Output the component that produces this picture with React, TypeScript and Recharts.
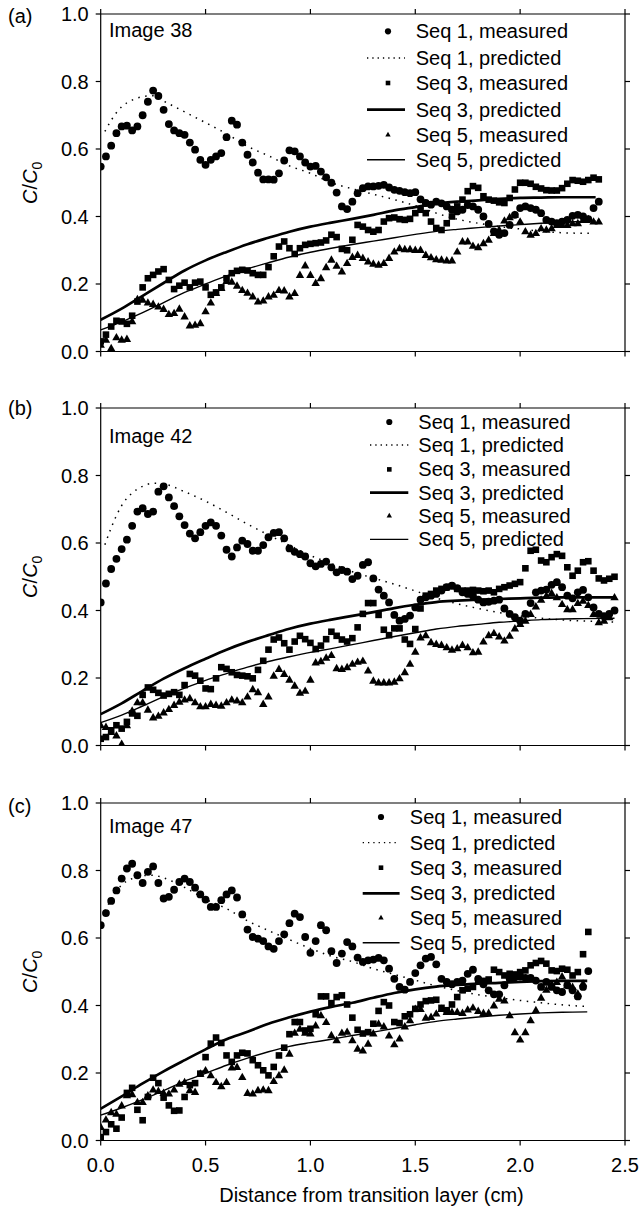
import React from 'react';
import { ComposedChart, Scatter, Line, XAxis, YAxis, Legend } from 'recharts';

const FONT = "'Liberation Sans', Arial, Helvetica, sans-serif";

// ---------- text / ticks ----------
const X_TICKS = [0, 0.5, 1.0, 1.5, 2.0, 2.5];
const X_TICK_LABELS = ['0.0', '0.5', '1.0', '1.5', '2.0', '2.5'];
const Y_TICKS = [0, 0.2, 0.4, 0.6, 0.8, 1.0];
const Y_TICK_LABELS = ['0.0', '0.2', '0.4', '0.6', '0.8', '1.0'];
const LEGEND_LABELS = [
  'Seq 1, measured',
  'Seq 1, predicted',
  'Seq 3, measured',
  'Seq 3, predicted',
  'Seq 5, measured',
  'Seq 5, predicted',
];
const PANEL_LETTERS = ['(a)', '(b)', '(c)'];
const IMAGE_NAMES = ['Image 38', 'Image 42', 'Image 47'];
const X_TITLE = 'Distance from transition layer (cm)';

// ---------- sampling positions of the measured profiles (cm) ----------
const DISTANCE = [
  0, 0.025, 0.05, 0.075, 0.1, 0.125, 0.15, 0.175, 0.2, 0.225,
  0.25, 0.275, 0.3, 0.325, 0.35, 0.375, 0.4, 0.425, 0.45, 0.475,
  0.5, 0.525, 0.55, 0.575, 0.6, 0.625, 0.65, 0.675, 0.7, 0.725,
  0.75, 0.775, 0.8, 0.825, 0.85, 0.875, 0.9, 0.925, 0.95, 0.975,
  1.0, 1.025, 1.05, 1.075, 1.1, 1.125, 1.15, 1.175, 1.2, 1.225,
  1.25, 1.275, 1.3, 1.325, 1.35, 1.375, 1.4, 1.425, 1.45, 1.475,
  1.5, 1.525, 1.55, 1.575, 1.6, 1.625, 1.65, 1.675, 1.7, 1.725,
  1.75, 1.775, 1.8, 1.825, 1.85, 1.875, 1.9, 1.925, 1.95, 1.975,
  2.0, 2.025, 2.05, 2.075, 2.1, 2.125, 2.15, 2.175, 2.2, 2.225,
  2.25, 2.275, 2.3, 2.325, 2.35, 2.375, 2.4, 2.425, 2.45,
];

// ---------- panel (a) Image 38 ----------
const A_SEQ1 = [
  0.548, 0.578, 0.61, 0.647, 0.667, 0.669, 0.655, 0.667, 0.7, 0.74,
  0.773, 0.757, 0.716, 0.674, 0.655, 0.647, 0.642, 0.619, 0.598, 0.568,
  0.553, 0.568, 0.578, 0.588, 0.635, 0.684, 0.672, 0.619, 0.583, 0.56,
  0.53, 0.51, 0.51, 0.509, 0.528, 0.566, 0.596, 0.593, 0.578, 0.56,
  0.548, 0.55, 0.533, 0.516, 0.5, 0.471, 0.43, 0.422, 0.444, 0.469,
  0.484, 0.489, 0.489, 0.491, 0.494, 0.486, 0.479, 0.476, 0.472, 0.469,
  0.472, 0.451, 0.44, 0.435, 0.444, 0.439, 0.43, 0.42, 0.415, 0.42,
  0.434, 0.43, 0.42, 0.4, 0.378, 0.356, 0.346, 0.351, 0.375, 0.405,
  0.425, 0.43, 0.425, 0.42, 0.41, 0.39, 0.385, 0.38, 0.385, 0.39,
  0.402, 0.405, 0.4, 0.392, 0.425, 0.444,
];
const A_SEQ3 = [
  0.03, 0.05, 0.074, 0.091, 0.089, 0.082, 0.106, 0.148, 0.19, 0.217,
  0.227, 0.237, 0.244, 0.212, 0.185, 0.195, 0.204, 0.19, 0.204, 0.207,
  0.19, 0.168, 0.175, 0.19, 0.217, 0.232, 0.239, 0.242, 0.24, 0.232,
  0.227, 0.227, 0.25, 0.282, 0.311, 0.326, 0.306, 0.289, 0.306, 0.316,
  0.319, 0.321, 0.323, 0.329, 0.346, 0.339, 0.304, 0.3, 0.331, 0.375,
  0.37, 0.36, 0.355, 0.36, 0.385, 0.395, 0.397, 0.392, 0.39, 0.393,
  0.41, 0.42, 0.41, 0.385, 0.366, 0.36, 0.38, 0.4, 0.43, 0.45,
  0.475, 0.49, 0.485, 0.46, 0.45, 0.447, 0.442, 0.44, 0.455, 0.48,
  0.5, 0.5, 0.497, 0.488, 0.483, 0.478, 0.477, 0.477, 0.484, 0.497,
  0.508, 0.506, 0.503, 0.508, 0.515, 0.51,
];
const A_SEQ5 = [
  0.02, 0.035, 0.01, 0.042, 0.035, 0.037, 0.09, 0.155, 0.153, 0.145,
  0.141, 0.133, 0.126, 0.111, 0.114, 0.127, 0.104, 0.077, 0.079, 0.084,
  0.119, 0.145, 0.173, 0.188, 0.209, 0.207, 0.195, 0.182, 0.174, 0.163,
  0.148, 0.151, 0.163, 0.168, 0.182, 0.181, 0.163, 0.173, 0.227, 0.255,
  0.227, 0.203, 0.217, 0.25, 0.272, 0.254, 0.237, 0.262, 0.28, 0.286,
  0.277, 0.267, 0.26, 0.257, 0.262, 0.277, 0.296, 0.306, 0.303, 0.303,
  0.301, 0.301, 0.286, 0.279, 0.273, 0.272, 0.27, 0.27, 0.296, 0.326,
  0.326, 0.313, 0.309, 0.321, 0.331, 0.351, 0.361, 0.388, 0.398, 0.405,
  0.385, 0.356, 0.346, 0.351, 0.365, 0.361, 0.365, 0.375, 0.375, 0.375,
  0.38, 0.38, 0.39, 0.392, 0.385, 0.385,
];
const A_DOT_X = [0.02, 0.05, 0.1, 0.15, 0.2, 0.25, 0.3, 0.4, 0.5, 0.6, 0.7, 0.8, 0.9, 1.0, 1.1, 1.2, 1.3, 1.4, 1.5, 1.6, 1.7, 1.8, 1.9, 2.0, 2.1, 2.2, 2.33];
const A_PRED1 = [0.652, 0.685, 0.725, 0.745, 0.755, 0.758, 0.742, 0.71, 0.678, 0.645, 0.608, 0.58, 0.55, 0.528, 0.5, 0.482, 0.466, 0.45, 0.432, 0.41, 0.392, 0.38, 0.37, 0.363, 0.356, 0.352, 0.35];
const A_LINE_X = [0, 0.1, 0.2, 0.3, 0.4, 0.5, 0.6, 0.7, 0.8, 0.9, 1.0, 1.1, 1.2, 1.3, 1.4, 1.5, 1.6, 1.7, 1.8, 1.9, 2.0, 2.1, 2.2, 2.36];
const A_PRED3 = [0.094, 0.127, 0.165, 0.203, 0.24, 0.27, 0.295, 0.318, 0.337, 0.355, 0.37, 0.382, 0.393, 0.405, 0.418, 0.428, 0.438, 0.444, 0.448, 0.452, 0.455, 0.456, 0.457, 0.457];
const A_PRED5 = [0.064, 0.088, 0.115, 0.145, 0.175, 0.2, 0.224, 0.245, 0.263, 0.28, 0.294, 0.306, 0.317, 0.327, 0.337, 0.347, 0.356, 0.362, 0.367, 0.372, 0.376, 0.38, 0.383, 0.387];

// ---------- panel (b) Image 42 ----------
const B_SEQ1 = [
  0.424, 0.48, 0.523, 0.553, 0.582, 0.61, 0.651, 0.693, 0.703, 0.686,
  0.693, 0.752, 0.768, 0.735, 0.709, 0.679, 0.653, 0.628, 0.614, 0.632,
  0.651, 0.661, 0.651, 0.622, 0.58, 0.56, 0.587, 0.607, 0.597, 0.577,
  0.577, 0.594, 0.617, 0.63, 0.632, 0.614, 0.584, 0.574, 0.567, 0.56,
  0.54, 0.531, 0.538, 0.545, 0.528, 0.513, 0.52, 0.515, 0.493, 0.503,
  0.535, 0.543, 0.495, 0.462, 0.444, 0.424, 0.387, 0.37, 0.375, 0.385,
  0.409, 0.432, 0.439, 0.444, 0.449, 0.459, 0.469, 0.474, 0.466, 0.454,
  0.449, 0.444, 0.432, 0.424, 0.426, 0.429, 0.432, 0.406, 0.39, 0.38,
  0.37, 0.39, 0.422, 0.454, 0.459, 0.462, 0.476, 0.484, 0.469, 0.444,
  0.436, 0.454, 0.461, 0.439, 0.409, 0.39, 0.383, 0.39, 0.4,
];
const B_SEQ3 = [
  0.02, 0.025, 0.045, 0.06, 0.05, 0.07, 0.095, 0.088, 0.15, 0.172,
  0.165, 0.156, 0.148, 0.153, 0.158, 0.15, 0.179, 0.212, 0.207, 0.192,
  0.169, 0.167, 0.199, 0.232, 0.227, 0.217, 0.209, 0.207, 0.205, 0.199,
  0.224, 0.251, 0.284, 0.314, 0.32, 0.303, 0.284, 0.308, 0.325, 0.315,
  0.304, 0.286, 0.296, 0.315, 0.337, 0.325, 0.314, 0.308, 0.318, 0.35,
  0.39, 0.422, 0.422, 0.387, 0.343, 0.327, 0.347, 0.347, 0.314, 0.301,
  0.345, 0.406, 0.444, 0.449, 0.459, 0.464, 0.469, 0.472, 0.464, 0.459,
  0.459, 0.461, 0.459, 0.457, 0.459, 0.454, 0.464, 0.469, 0.474, 0.479,
  0.484, 0.525, 0.577, 0.58, 0.548, 0.543, 0.558, 0.567, 0.562, 0.528,
  0.503, 0.518, 0.543, 0.546, 0.518, 0.495, 0.489, 0.494, 0.5,
];
const B_SEQ5 = [
  0.06, 0.055, 0.04, 0.03, 0.005, 0.06, 0.103, 0.128, 0.128, 0.106,
  0.083, 0.088, 0.098, 0.108, 0.12, 0.13, 0.136, 0.14, 0.128, 0.116,
  0.116, 0.123, 0.12, 0.118, 0.128, 0.136, 0.133, 0.128, 0.145, 0.167,
  0.158, 0.123, 0.145, 0.207, 0.227, 0.212, 0.195, 0.177, 0.156, 0.162,
  0.195, 0.246, 0.25, 0.26, 0.268, 0.229, 0.227, 0.232, 0.242, 0.248,
  0.251, 0.222, 0.192, 0.187, 0.187, 0.187, 0.189, 0.199, 0.217, 0.242,
  0.278, 0.32, 0.327, 0.306, 0.301, 0.298, 0.291, 0.284, 0.288, 0.298,
  0.291, 0.276, 0.278, 0.308, 0.327, 0.333, 0.323, 0.311, 0.325, 0.347,
  0.36, 0.37, 0.39, 0.412, 0.432, 0.444, 0.452, 0.439, 0.419, 0.404,
  0.404, 0.422, 0.429, 0.416, 0.39, 0.365, 0.37, 0.38, 0.439,
];
const B_DOT_X = [0.02, 0.05, 0.1, 0.15, 0.2, 0.25, 0.3, 0.4, 0.5, 0.6, 0.7, 0.8, 0.9, 1.0, 1.1, 1.2, 1.3, 1.4, 1.5, 1.6, 1.7, 1.8, 1.9, 2.0, 2.1, 2.2, 2.3, 2.4, 2.45];
const B_PRED1 = [0.595, 0.645, 0.711, 0.748, 0.768, 0.777, 0.775, 0.752, 0.724, 0.691, 0.656, 0.624, 0.593, 0.563, 0.539, 0.515, 0.496, 0.478, 0.458, 0.437, 0.42, 0.406, 0.394, 0.384, 0.377, 0.372, 0.369, 0.367, 0.366];
const B_LINE_X = [0, 0.1, 0.2, 0.3, 0.4, 0.5, 0.6, 0.7, 0.8, 0.9, 1.0, 1.1, 1.2, 1.3, 1.4, 1.5, 1.6, 1.7, 1.8, 1.9, 2.0, 2.1, 2.2, 2.3, 2.45];
const B_PRED3 = [0.093, 0.125, 0.162, 0.198, 0.229, 0.257, 0.284, 0.307, 0.327, 0.346, 0.361, 0.373, 0.384, 0.395, 0.407, 0.417, 0.425, 0.429, 0.432, 0.434, 0.436, 0.438, 0.439, 0.439, 0.439];
const B_PRED5 = [0.068, 0.09, 0.117, 0.145, 0.17, 0.193, 0.213, 0.232, 0.249, 0.263, 0.276, 0.287, 0.299, 0.311, 0.323, 0.334, 0.345, 0.353, 0.359, 0.365, 0.369, 0.373, 0.375, 0.376, 0.377];

// ---------- panel (c) Image 47 ----------
const C_SEQ1 = [
  0.638, 0.674, 0.71, 0.741, 0.776, 0.806, 0.82, 0.786, 0.763, 0.796,
  0.812, 0.763, 0.717, 0.722, 0.743, 0.766, 0.776, 0.766, 0.749, 0.729,
  0.714, 0.692, 0.692, 0.712, 0.729, 0.741, 0.72, 0.67, 0.625, 0.603,
  0.598, 0.591, 0.575, 0.568, 0.591, 0.611, 0.644, 0.672, 0.662, 0.603,
  0.556, 0.591, 0.638, 0.623, 0.561, 0.526, 0.554, 0.588, 0.575, 0.542,
  0.529, 0.534, 0.536, 0.541, 0.534, 0.509, 0.479, 0.455, 0.447, 0.47,
  0.496, 0.519, 0.539, 0.544, 0.522, 0.479, 0.47, 0.463, 0.47, 0.474,
  0.494, 0.506, 0.479, 0.463, 0.445, 0.433, 0.433, 0.46, 0.479, 0.484,
  0.486, 0.482, 0.482, 0.474, 0.455, 0.47, 0.455, 0.445, 0.44, 0.46,
  0.445, 0.427, 0.455, 0.502,
];
const C_SEQ3 = [
  0.01, 0.025, 0.048, 0.035, 0.068, 0.141, 0.156, 0.091, 0.06, 0.129,
  0.186, 0.17, 0.127, 0.104, 0.088, 0.089, 0.129, 0.164, 0.17, 0.198,
  0.247, 0.287, 0.305, 0.289, 0.252, 0.233, 0.252, 0.26, 0.258, 0.238,
  0.223, 0.208, 0.193, 0.218, 0.252, 0.275, 0.315, 0.351, 0.351, 0.326,
  0.331, 0.374, 0.427, 0.427, 0.407, 0.425, 0.43, 0.403, 0.364, 0.328,
  0.317, 0.321, 0.346, 0.384, 0.41, 0.4, 0.351, 0.348, 0.368, 0.374,
  0.39, 0.403, 0.413, 0.415, 0.417, 0.393, 0.386, 0.403, 0.425, 0.445,
  0.45, 0.455, 0.473, 0.473, 0.477, 0.506, 0.499, 0.489, 0.494, 0.492,
  0.499, 0.504, 0.519, 0.526, 0.532, 0.524, 0.504, 0.502, 0.509, 0.506,
  0.489, 0.499, 0.552, 0.618,
];
const C_SEQ5 = [
  0.04, 0.062, 0.084, 0.079, 0.104, 0.134, 0.137, 0.114, 0.114, 0.134,
  0.151, 0.147, 0.141, 0.139, 0.151, 0.168, 0.173, 0.149, 0.144, 0.198,
  0.208, 0.193, 0.173, 0.161, 0.173, 0.216, 0.218, 0.188, 0.141, 0.139,
  0.149, 0.151, 0.149, 0.176, 0.193, 0.21, 0.257, 0.319, 0.331, 0.319,
  0.317, 0.341, 0.371, 0.351, 0.312, 0.297, 0.319, 0.322, 0.297, 0.272,
  0.267, 0.287, 0.317, 0.346, 0.338, 0.311, 0.285, 0.302, 0.338, 0.356,
  0.39, 0.39, 0.364, 0.366, 0.376, 0.39, 0.381, 0.381, 0.381, 0.378,
  0.388, 0.394, 0.384, 0.378, 0.378, 0.4, 0.42, 0.415, 0.371, 0.321,
  0.299, 0.321, 0.356, 0.386, 0.423, 0.447, 0.463, 0.47, 0.486, 0.46,
  0.455, 0.435, 0.465,
];
const C_DOT_X = [0.02, 0.05, 0.1, 0.15, 0.2, 0.25, 0.3, 0.4, 0.5, 0.6, 0.7, 0.8, 0.9, 1.0, 1.1, 1.2, 1.3, 1.4, 1.5, 1.6, 1.7, 1.8, 1.9, 2.0, 2.1, 2.2, 2.32];
const C_PRED1 = [0.68, 0.715, 0.757, 0.776, 0.785, 0.786, 0.778, 0.75, 0.715, 0.687, 0.651, 0.622, 0.595, 0.569, 0.546, 0.53, 0.509, 0.492, 0.475, 0.458, 0.444, 0.432, 0.423, 0.415, 0.408, 0.402, 0.397];
const C_LINE_X = [0, 0.1, 0.2, 0.3, 0.4, 0.5, 0.6, 0.7, 0.8, 0.9, 1.0, 1.1, 1.2, 1.3, 1.4, 1.5, 1.6, 1.7, 1.8, 1.9, 2.0, 2.1, 2.2, 2.32];
const C_PRED3 = [0.094, 0.131, 0.169, 0.205, 0.238, 0.27, 0.3, 0.322, 0.346, 0.365, 0.382, 0.396, 0.408, 0.423, 0.437, 0.448, 0.456, 0.461, 0.465, 0.467, 0.47, 0.472, 0.473, 0.473];
const C_PRED5 = [0.075, 0.097, 0.121, 0.148, 0.176, 0.199, 0.223, 0.244, 0.263, 0.279, 0.29, 0.3, 0.311, 0.321, 0.332, 0.343, 0.353, 0.36, 0.366, 0.371, 0.375, 0.378, 0.38, 0.381];

// ---------- layout ----------
const W = 641;
const PLOT_LEFT = 100.7;
const PLOT_RIGHT = 625;
const PLOT_TOP = 14;
const PLOT_H = 337.5;

type Pt = { x: number; y: number };
const zip = (xs: number[], ys: number[]): Pt[] => ys.map((y, i) => ({ x: xs[i], y }));

interface LegendLayout {
  markerX: number;
  lineX1: number;
  lineX2: number;
  textX: number;
  rows: number[];
}
interface PanelLayout {
  top: number;
  height: number;
  letterY: number;
  imageY: number;
  legend: LegendLayout;
  showX: boolean;
}

const LAYOUTS: PanelLayout[] = [
  {
    top: 0,
    height: 394,
    letterY: 22.5,
    imageY: 36.7,
    legend: { markerX: 388, lineX1: 367, lineX2: 405, textX: 415.7, rows: [38.3, 65, 90, 116.7, 141.7, 166.7] },
    showX: false,
  },
  {
    top: 394.3,
    height: 394,
    letterY: 21,
    imageY: 49,
    legend: { markerX: 389.3, lineX1: 370, lineX2: 408.3, textX: 418.3, rows: [35, 58, 82.4, 105.7, 128.7, 152.4] },
    showX: false,
  },
  {
    top: 789,
    height: 419,
    letterY: 23.5,
    imageY: 43.7,
    legend: { markerX: 381, lineX1: 362.7, lineX2: 399.6, textX: 409.8, rows: [35, 60.7, 85.7, 111.3, 135.7, 160.7] },
    showX: true,
  },
];

const PANEL_SERIES = [
  {
    seq1: zip(DISTANCE, A_SEQ1), seq3: zip(DISTANCE, A_SEQ3), seq5: zip(DISTANCE, A_SEQ5),
    pred1: zip(A_DOT_X, A_PRED1), pred3: zip(A_LINE_X, A_PRED3), pred5: zip(A_LINE_X, A_PRED5),
  },
  {
    seq1: zip(DISTANCE, B_SEQ1), seq3: zip(DISTANCE, B_SEQ3), seq5: zip(DISTANCE, B_SEQ5),
    pred1: zip(B_DOT_X, B_PRED1), pred3: zip(B_LINE_X, B_PRED3), pred5: zip(B_LINE_X, B_PRED5),
  },
  {
    seq1: zip(DISTANCE, C_SEQ1), seq3: zip(DISTANCE, C_SEQ3), seq5: zip(DISTANCE, C_SEQ5),
    pred1: zip(C_DOT_X, C_PRED1), pred3: zip(C_LINE_X, C_PRED3), pred5: zip(C_LINE_X, C_PRED5),
  },
];

// ---------- styles ----------
const AXIS_STYLE = { stroke: '#000', strokeWidth: 1.2 };
const TICK_STYLE = { fill: '#000', fontSize: 20, fontFamily: FONT };
const DOT_DASH = '1.5 5.5';
const THICK_W = 2.7;
const THIN_W = 1.4;

const fmtX = (v: number) => X_TICK_LABELS[X_TICKS.indexOf(v)] ?? '';
const fmtY = (v: number) => Y_TICK_LABELS[Y_TICKS.indexOf(v)] ?? '';
const blank = () => '';

const CircleMark = (p: any) =>
  p.cx == null ? <g /> : <circle cx={p.cx} cy={p.cy} r={3.9} fill="#000" />;
const SquareMark = (p: any) =>
  p.cx == null ? <g /> : <rect x={p.cx - 3.3} y={p.cy - 3.3} width={6.6} height={6.6} fill="#000" />;
const TriangleMark = (p: any) =>
  p.cx == null ? (
    <g />
  ) : (
    <polygon
      points={`${p.cx},${p.cy - 4.4} ${p.cx + 4.2},${p.cy + 3} ${p.cx - 4.2},${p.cy + 3}`}
      fill="#000"
    />
  );

const LEGEND_KIND = ['circle', 'dotted', 'square', 'thick', 'triangle', 'thin'];

function LegendBox({ layout }: { layout: LegendLayout }) {
  return (
    <svg width={W} height={200} style={{ display: 'block', overflow: 'visible' }}>
      {LEGEND_LABELS.map((label, i) => {
        const base = layout.rows[i];
        const cy = base - 7;
        const kind = LEGEND_KIND[i];
        const mx = layout.markerX;
        let sym: React.ReactNode = null;
        if (kind === 'circle') sym = <circle cx={mx} cy={cy} r={3.1} fill="#000" />;
        else if (kind === 'square') sym = <rect x={mx - 2.3} y={cy - 2.3} width={4.6} height={4.6} fill="#000" />;
        else if (kind === 'triangle')
          sym = <polygon points={`${mx},${cy - 3} ${mx + 2.7},${cy + 1.9} ${mx - 2.7},${cy + 1.9}`} fill="#000" />;
        else {
          const sw = kind === 'thick' ? THICK_W : kind === 'thin' ? THIN_W : 1.3;
          sym = (
            <line
              x1={layout.lineX1}
              x2={layout.lineX2}
              y1={cy}
              y2={cy}
              stroke="#000"
              strokeWidth={sw}
              strokeDasharray={kind === 'dotted' ? '1.3 4' : undefined}
            />
          );
        }
        return (
          <g key={label}>
            {sym}
            <text x={layout.textX} y={base} fontFamily={FONT} fontSize={20} fill="#000">
              {label}
            </text>
          </g>
        );
      })}
    </svg>
  );
}

function Panel({ index }: { index: number }) {
  const lay = LAYOUTS[index];
  const s = PANEL_SERIES[index];
  const xAxisHeight = lay.height - PLOT_TOP - PLOT_H;
  const midY = PLOT_TOP + PLOT_H / 2;
  return (
    <div style={{ position: 'absolute', left: 0, top: lay.top, width: W, height: lay.height }}>
      <ComposedChart
        width={W}
        height={lay.height}
        margin={{ top: PLOT_TOP - 1, right: W - PLOT_RIGHT - 1, bottom: 0, left: 0 }}
      >
        <XAxis
          type="number"
          dataKey="x"
          domain={[0, 2.5]}
          ticks={X_TICKS}
          interval={0}
          allowDataOverflow
          height={xAxisHeight}
          tickSize={5}
          tickMargin={12}
          axisLine={AXIS_STYLE}
          tickLine={AXIS_STYLE}
          tick={TICK_STYLE}
          tickFormatter={lay.showX ? fmtX : blank}
        />
        <XAxis
          xAxisId="top"
          orientation="top"
          type="number"
          dataKey="x"
          domain={[0, 2.5]}
          ticks={X_TICKS}
          interval={0}
          allowDataOverflow
          height={1}
          tickSize={5}
          axisLine={AXIS_STYLE}
          tickLine={AXIS_STYLE}
          tick={TICK_STYLE}
          tickFormatter={blank}
        />
        <YAxis
          type="number"
          dataKey="y"
          domain={[0, 1]}
          ticks={Y_TICKS}
          interval={0}
          allowDataOverflow
          width={PLOT_LEFT}
          tickSize={5}
          tickMargin={7}
          axisLine={AXIS_STYLE}
          tickLine={AXIS_STYLE}
          tick={TICK_STYLE}
          tickFormatter={fmtY}
        />
        <YAxis
          yAxisId="right"
          orientation="right"
          type="number"
          dataKey="y"
          domain={[0, 1]}
          ticks={Y_TICKS}
          interval={0}
          allowDataOverflow
          width={1}
          tickSize={5}
          axisLine={AXIS_STYLE}
          tickLine={AXIS_STYLE}
          tick={TICK_STYLE}
          tickFormatter={blank}
        />
        <Line
          data={s.pred1}
          dataKey="y"
          name={LEGEND_LABELS[1]}
          type="monotone"
          stroke="#000"
          strokeWidth={1.5}
          strokeDasharray={DOT_DASH}
          dot={false}
          activeDot={false}
          isAnimationActive={false}
        />
        <Line
          data={s.pred3}
          dataKey="y"
          name={LEGEND_LABELS[3]}
          type="monotone"
          stroke="#000"
          strokeWidth={THICK_W}
          dot={false}
          activeDot={false}
          isAnimationActive={false}
        />
        <Line
          data={s.pred5}
          dataKey="y"
          name={LEGEND_LABELS[5]}
          type="monotone"
          stroke="#000"
          strokeWidth={THIN_W}
          dot={false}
          activeDot={false}
          isAnimationActive={false}
        />
        <Scatter data={s.seq1} name={LEGEND_LABELS[0]} shape={CircleMark} isAnimationActive={false} />
        <Scatter data={s.seq3} name={LEGEND_LABELS[2]} shape={SquareMark} isAnimationActive={false} />
        <Scatter data={s.seq5} name={LEGEND_LABELS[4]} shape={TriangleMark} isAnimationActive={false} />
        <Legend
          layout="horizontal"
          verticalAlign="middle"
          align="center"
          wrapperStyle={{ left: 0, top: 0, width: W, height: 200, margin: 0, padding: 0 }}
          content={() => <LegendBox layout={lay.legend} />}
        />
      </ComposedChart>
      <svg
        width={W}
        height={lay.height}
        style={{ position: 'absolute', left: 0, top: 0, pointerEvents: 'none', overflow: 'visible' }}
      >
        <text x={8} y={lay.letterY} fontFamily={FONT} fontSize={20} fill="#000">
          {PANEL_LETTERS[index]}
        </text>
        <text x={109} y={lay.imageY} fontFamily={FONT} fontSize={20} fill="#000">
          {IMAGE_NAMES[index]}
        </text>
        <text
          transform={`translate(37, ${midY}) rotate(-90)`}
          textAnchor="middle"
          fontFamily={FONT}
          fontSize={20}
          fill="#000"
        >
          <tspan fontStyle="italic">C</tspan>
          <tspan>/</tspan>
          <tspan fontStyle="italic">C</tspan>
          <tspan fontSize={14} dy={5}>0</tspan>
        </text>
        {lay.showX && (
          <text x={371.5} y={412.7} textAnchor="middle" fontFamily={FONT} fontSize={20} fill="#000">
            {X_TITLE}
          </text>
        )}
      </svg>
    </div>
  );
}

export default function App() {
  return (
    <div
      style={{
        position: 'absolute',
        left: 0,
        top: 0,
        width: W,
        height: 1208,
        background: '#fff',
        overflow: 'hidden',
      }}
    >
      <Panel index={0} />
      <Panel index={1} />
      <Panel index={2} />
    </div>
  );
}
